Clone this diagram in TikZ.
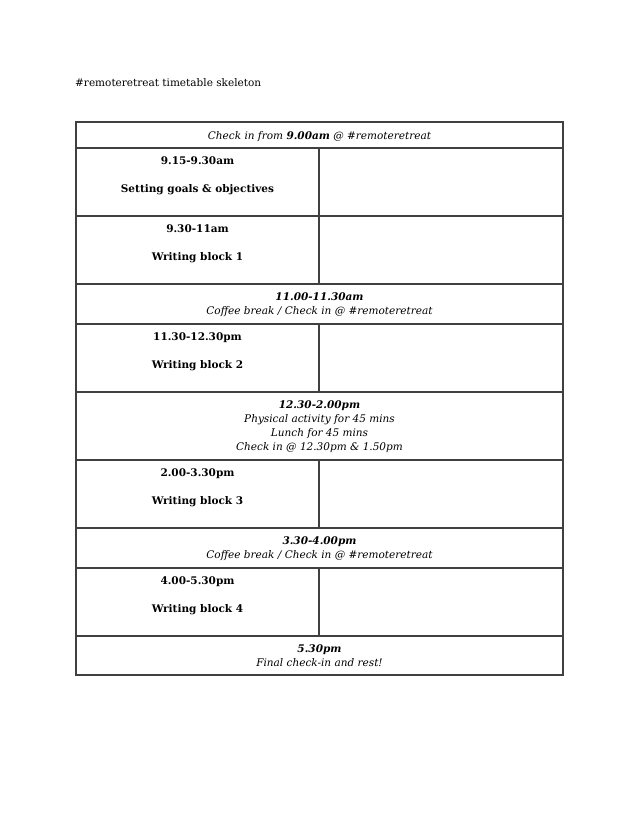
\documentclass[tikz,border=0pt]{standalone}
\usepackage{fontspec}
\setmainfont{DejaVu Serif}
\usepackage{tikz}

\begin{document}
\begin{tikzpicture}[x=1pt, y=-1pt,
  grid/.style={black!75, line width=1.2pt},
  txt/.style={font=\fontsize{10.5}{14}\selectfont, inner sep=0pt, anchor=base},
  mid/.style={txt, align=center}]
\useasboundingbox [fill=white] (0, 0) rectangle (637, 825);

\node [txt, anchor=base west] (title) at (75, 86) {\#remoteretreat timetable skeleton};

% outer frame and rows
\draw [grid] (76, 122) rectangle (563, 675);
\foreach \y in {148, 216, 284, 324, 392, 460, 528, 568, 636}
  \draw [grid] (76, \y) -- (563, \y);
% split cells
\draw [grid] (319, 148) -- (319, 284);
\draw [grid] (319, 324) -- (319, 392);
\draw [grid] (319, 460) -- (319, 528);
\draw [grid] (319, 568) -- (319, 636);

% full width rows
\node [txt] (checkin) at (319.5, 139) {\itshape Check in from \textbf{9.00am} @ \#remoteretreat};

\node [txt] (breakA) at (319.5, 300) {\bfseries\itshape 11.00-11.30am};
\node [txt] (breakAt) at (319.5, 314) {\itshape Coffee break / Check in @ \#remoteretreat};

\node [txt] (lunch) at (319.5, 408) {\bfseries\itshape 12.30-2.00pm};
\node [txt] (lunchA) at (319.5, 422) {\itshape Physical activity for 45 mins};
\node [txt] (lunchB) at (319.5, 436) {\itshape Lunch for 45 mins};
\node [txt] (lunchC) at (319.5, 450) {\itshape Check in @ 12.30pm \& 1.50pm};

\node [txt] (breakB) at (319.5, 544) {\bfseries\itshape 3.30-4.00pm};
\node [txt] (breakBt) at (319.5, 558) {\itshape Coffee break / Check in @ \#remoteretreat};

\node [txt] (finish) at (319.5, 652) {\bfseries\itshape 5.30pm};
\node [txt] (finisht) at (319.5, 666) {\itshape Final check-in and rest!};

% split rows
\node [txt] (goals) at (197.5, 164) {\bfseries 9.15-9.30am};
\node [txt] (goalst) at (197.5, 192) {\bfseries Setting goals \& objectives};

\node [txt] (blockA) at (197.5, 232) {\bfseries 9.30-11am};
\node [txt] (blockAt) at (197.5, 260) {\bfseries Writing block 1};

\node [txt] (blockB) at (197.5, 340) {\bfseries 11.30-12.30pm};
\node [txt] (blockBt) at (197.5, 368) {\bfseries Writing block 2};

\node [txt] (blockC) at (197.5, 476) {\bfseries 2.00-3.30pm};
\node [txt] (blockCt) at (197.5, 504) {\bfseries Writing block 3};

\node [txt] (blockD) at (197.5, 584) {\bfseries 4.00-5.30pm};
\node [txt] (blockDt) at (197.5, 612) {\bfseries Writing block 4};

\end{tikzpicture}
\end{document}
